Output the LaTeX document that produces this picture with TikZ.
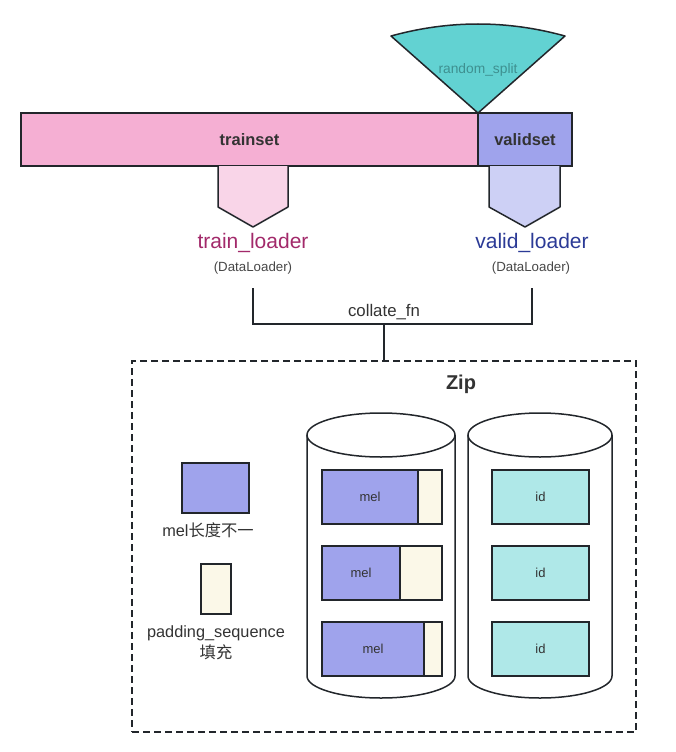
\documentclass[tikz,border=0pt]{standalone}
\usepackage{fontspec}
\setmainfont{Liberation Sans}
\newfontfamily\cjk{Noto Sans CJK SC}
\definecolor{linec}{HTML}{22262B}
\definecolor{txt}{HTML}{333333}
\definecolor{teal1}{HTML}{62D2D2}
\definecolor{pinkbar}{HTML}{F5AFD3}
\definecolor{pinklight}{HTML}{F9D5E8}
\definecolor{bluebar}{HTML}{9FA3EC}
\definecolor{bluelight}{HTML}{CDD0F5}
\definecolor{cream}{HTML}{FBF8E8}
\definecolor{idc}{HTML}{AFE8E8}
\definecolor{trainc}{HTML}{A2296A}
\definecolor{validc}{HTML}{2B3A96}
\definecolor{rsc}{HTML}{3E9090}
\begin{document}
\begin{tikzpicture}[x=1pt,y=-1pt,
  every node/.style={inner sep=0pt,outer sep=0pt,text=txt},
  lw/.style={line width=1.5pt,draw=linec},
  bar/.style={lw,rectangle,font=\bfseries\fontsize{16.5}{18}\selectfont},
  cell/.style={lw,rectangle,font=\fontsize{13}{15}\selectfont},
  small/.style={font=\fontsize{13.3}{15}\selectfont,text=txt!90},
  lbl/.style={font=\fontsize{16.3}{18}\selectfont}]
\useasboundingbox (0,0) rectangle (676,752);
% sector
\draw[lw,fill=teal1,line join=round] (478,113) -- (391,36) .. controls (449,20) and (507,20) .. (565,36) -- cycle;
\node[font=\fontsize{13.8}{15}\selectfont,text=rsc] (rs) at (478,70) {random\_split};
% bars
\node[bar,fill=pinkbar,minimum width=457pt,minimum height=53pt] (train) at (249.5,139.5) {trainset};
\node[bar,fill=bluebar,minimum width=94pt,minimum height=53pt] (valid) at (525,139.5) {validset};
% pentagon arrows
\draw[lw,fill=pinklight,line join=round] (218,166) -- (218,207) -- (253,227) -- (288,207) -- (288,166);
\draw[lw,fill=bluelight,line join=round] (489,166) -- (489,207) -- (525,227) -- (560,207) -- (560,166);
% loader labels
\node[font=\fontsize{21}{23}\selectfont,text=trainc] (tl) at (253,243) {train\_loader};
\node[small] (tdl) at (253,268) {(DataLoader)};
\node[font=\fontsize{21}{23}\selectfont,text=validc] (vl) at (532,243) {valid\_loader};
\node[small] (vdl) at (531,268) {(DataLoader)};
% bracket
\coordinate (c1) at (253,288);
\coordinate (c2) at (532,288);
\coordinate (j) at (384,324);
\draw[lw] (c1) |- (j) -| (c2);
\node[font=\fontsize{16.8}{18}\selectfont] (cf) at (384,312) {collate\_fn};
% zip box
\node[draw=linec,line width=1.5pt,dash pattern=on 7pt off 4pt,minimum width=504pt,minimum height=371pt] (zip) at (384,546.5) {};
\draw[lw] (j) -- (zip.north);
\node[font=\bfseries\fontsize{20}{22}\selectfont] (ziplbl) at (461,384) {Zip};
% cylinders
\draw[lw,fill=white] (307,435) -- (307,676) arc[start angle=180,end angle=360,x radius=74pt,y radius=22pt] -- (455,435);
\draw[lw,fill=white] (381,435) ellipse[x radius=74pt,y radius=22pt];
\draw[lw,fill=white] (468,435) -- (468,676) arc[start angle=180,end angle=360,x radius=72pt,y radius=22pt] -- (612,435);
\draw[lw,fill=white] (540,435) ellipse[x radius=72pt,y radius=22pt];
% mel rows
\node[cell,fill=bluebar,minimum width=96pt,minimum height=54pt] (m1) at (370,497) {mel};
\node[cell,fill=cream,minimum width=24pt,minimum height=54pt] (p1) at (430,497) {};
\node[cell,fill=bluebar,minimum width=78pt,minimum height=54pt] (m2) at (361,573) {mel};
\node[cell,fill=cream,minimum width=42pt,minimum height=54pt] (p2) at (421,573) {};
\node[cell,fill=bluebar,minimum width=102pt,minimum height=54pt] (m3) at (373,649) {mel};
\node[cell,fill=cream,minimum width=18pt,minimum height=54pt] (p3) at (433,649) {};
% id rows
\node[cell,fill=idc,minimum width=97pt,minimum height=54pt] (i1) at (540.5,497) {id};
\node[cell,fill=idc,minimum width=97pt,minimum height=54pt] (i2) at (540.5,573) {id};
\node[cell,fill=idc,minimum width=97pt,minimum height=54pt] (i3) at (540.5,649) {id};
% legend
\node[cell,fill=bluebar,minimum width=67pt,minimum height=50pt] (lm) at (215.5,488) {};
\node[lbl] (lml) at (208,530) {mel{\cjk 长度不一}};
\node[cell,fill=cream,minimum width=30pt,minimum height=50pt] (lp) at (216,589) {};
\node[lbl] (lpl) at (216,633) {padding\_sequence};
\node[lbl] (lpl2) at (216,652) {\cjk 填充};
\end{tikzpicture}
\end{document}
